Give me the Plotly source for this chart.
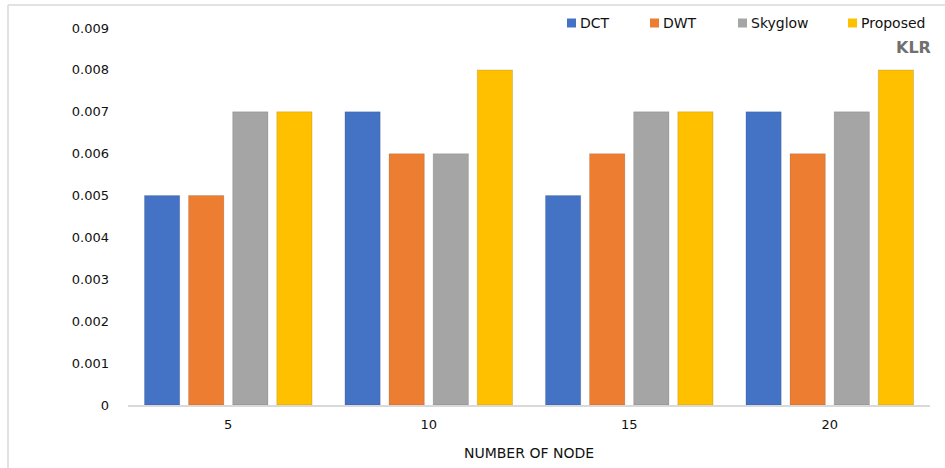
import plotly.graph_objects as go

# Node counts on the x axis and the four methods compared
nodes = ["5", "10", "15", "20"]
dct = [0.005, 0.007, 0.005, 0.007]
dwt = [0.005, 0.006, 0.006, 0.006]
skyglow = [0.007, 0.006, 0.007, 0.007]
proposed = [0.007, 0.008, 0.007, 0.008]

series = [
    ("DCT", dct, "#4472C4"),
    ("DWT", dwt, "#ED7D31"),
    ("Skyglow", skyglow, "#A5A5A5"),
    ("Proposed", proposed, "#FFC000"),
]

FONT = "DejaVu Sans"
W, H = 945, 468
L, R, T, B = 128, 15, 28, 63
PW, PH = W - L - R, H - T - B


def px(x):
    return (x - L) / PW


def py(y):
    return 1 - (y - T) / PH


fig = go.Figure()
for name, vals, color in series:
    fig.add_trace(go.Bar(
        name=name, x=nodes, y=vals, showlegend=False,
        marker=dict(color=color, line=dict(color="rgba(0,0,0,0.12)", width=1)),
    ))

# Key row along the top edge: coloured square followed by the series name
key_x = [567, 650, 738, 848]
shapes = []
annotations = []
for (name, _, color), kx in zip(series, key_x):
    shapes.append(dict(type="rect", xref="paper", yref="paper",
                       x0=px(kx), x1=px(kx + 9), y0=py(27.5), y1=py(18.5),
                       fillcolor=color, line=dict(width=0)))
    annotations.append(dict(text=name, xref="paper", yref="paper",
                            x=px(kx + 11), y=py(23), xanchor="left", yanchor="middle",
                            showarrow=False,
                            font=dict(family=FONT, size=14, color="#111111")))

annotations.append(dict(
    text="<b>KLR</b>", xref="paper", yref="paper", x=px(913), y=py(47),
    xanchor="center", yanchor="middle", showarrow=False,
    font=dict(family=FONT, size=16, color="#707070"),
))

# Light frame along the top and left edges
shapes += [
    dict(type="line", xref="paper", yref="paper",
         x0=px(8), x1=px(W + 5), y0=py(5), y1=py(5),
         line=dict(color="#D9D9D9", width=1.5)),
    dict(type="line", xref="paper", yref="paper",
         x0=px(8), x1=px(8), y0=py(5), y1=py(H + 5),
         line=dict(color="#D9D9D9", width=1.5)),
]

fig.update_layout(
    width=W, height=H,
    margin=dict(l=L, r=R, t=T, b=B, autoexpand=False),
    paper_bgcolor="white", plot_bgcolor="white",
    barmode="group", bargap=0.12, bargroupgap=0.2,
    font=dict(family=FONT, size=13, color="#111111"),
    showlegend=False,
    xaxis=dict(
        showgrid=False, showline=True, linecolor="#D9D9D9", linewidth=2,
        ticks="", tickfont=dict(size=13), ticklabelstandoff=6,
        title=dict(text="NUMBER OF NODE", font=dict(size=14), standoff=18),
    ),
    yaxis=dict(
        range=[0, 0.009], dtick=0.001, tickformat=".3~f",
        showgrid=False, zeroline=False, showline=False, ticks="",
        tickfont=dict(size=13), ticklabelstandoff=18,
    ),
    shapes=shapes,
    annotations=annotations,
)

fig.write_html("out.html")
